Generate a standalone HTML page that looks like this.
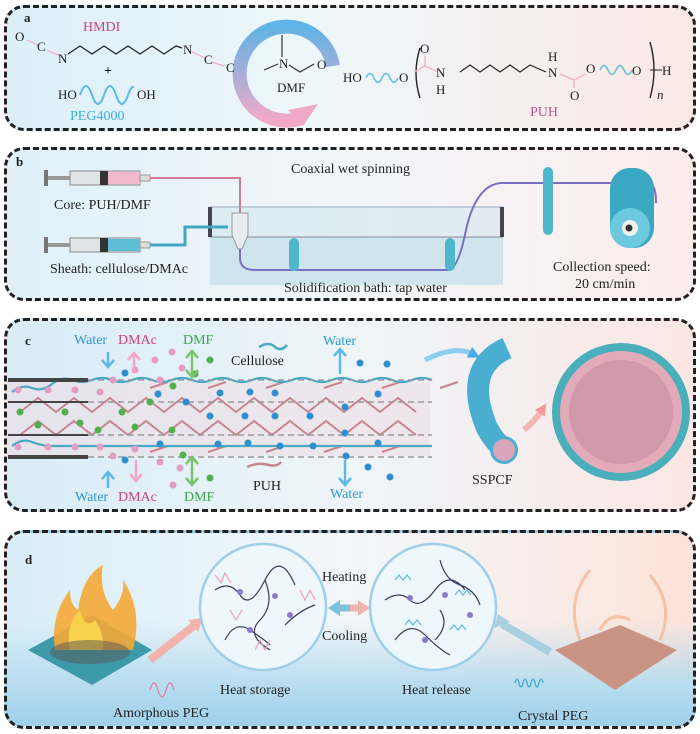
<!DOCTYPE html>
<html><head><meta charset="utf-8"><style>
body{margin:0;width:700px;height:734px;background:#fff;position:relative;overflow:hidden;font-family:"Liberation Serif",serif;}
.p{position:absolute;border:3px dashed #222;border-radius:20px;box-sizing:border-box;overflow:hidden}
.t{position:absolute;white-space:nowrap;font-size:14px;color:#222;line-height:1}
.s{font-size:13px}
</style></head><body>
<div class="p" style="left:4px;top:5px;width:692px;height:126px;background:linear-gradient(90deg,#dcefF9,#eef7fb 45%,#fbe8e4)"></div>
<div class="p" style="left:4px;top:147px;width:692px;height:154px;background:linear-gradient(90deg,#dff0f9,#f2f6f9 50%,#fcecec)"></div>
<div class="p" style="left:4px;top:318px;width:692px;height:194px;background:linear-gradient(90deg,#d8ecf7,#eef5f9 50%,#fce6e3)"></div>
<div class="p" style="left:4px;top:530px;width:692px;height:199px;background:linear-gradient(180deg,rgba(255,255,255,0) 45%,#b6dcef 80%,#9fd0ea),linear-gradient(90deg,#d9eef9,#f3f7fa 50%,#fde3da)"></div>

<svg style="position:absolute;left:0;top:0" width="700" height="734">
<defs>
<linearGradient id="ga" x1="0" y1="0" x2="0" y2="1"><stop offset="0" stop-color="#5fb3e6"/><stop offset="1" stop-color="#f2a9c9"/></linearGradient>
<marker id="mb" markerUnits="userSpaceOnUse" markerWidth="12" markerHeight="12" refX="4" refY="6" orient="auto"><path d="M0,0 L12,6 L0,12z" fill="#4aaee6"/></marker>
<marker id="mp" markerUnits="userSpaceOnUse" markerWidth="12" markerHeight="12" refX="4" refY="6" orient="auto"><path d="M0,0 L12,6 L0,12z" fill="#f39a9a"/></marker>
</defs>
<g stroke="#f3b6c8" stroke-width="1.5"><line x1="27" y1="40" x2="40" y2="46"/><line x1="47" y1="50" x2="60" y2="56"/><line x1="192" y1="52" x2="205" y2="58"/><line x1="212" y1="62" x2="224" y2="66"/></g>
<polyline points="68,54 80,46 92,54 104,46 116,54 128,46 140,54 152,46 164,54 176,46 182,48" fill="none" stroke="#222" stroke-width="1.3"/>
<path d="M80,95 q6,-18 12,0 q6,18 12,0 q6,-18 12,0 q6,18 12,0 q3,-9 6,-8" fill="none" stroke="#5bbde0" stroke-width="2"/>
<path d="M302,118 A47,47 0 1 1 333,66" fill="none" stroke="url(#ga)" stroke-width="14"/>
<polygon points="288,110 318,104 303,126" fill="#f0a8c8"/>
<g stroke="#333" stroke-width="1.2" fill="none"><line x1="282" y1="35" x2="282" y2="57"/><line x1="264" y1="70" x2="278" y2="64"/><polyline points="289,65 300,72 314,64"/></g>
<path d="M366,78 q4,-9 8,0 q4,9 8,0 q4,-9 8,0 q4,9 8,0" fill="none" stroke="#5bbde0" stroke-width="1.5"/>
<path d="M420,48 q-8,25 0,50 M650,42 q8,28 0,56" fill="none" stroke="#222" stroke-width="1.4"/>
<g stroke="#f3b6c8" stroke-width="1.5" fill="none"><polyline points="414,72 425,66 438,72"/><line x1="425" y1="66" x2="425" y2="56"/><polyline points="560,74 574,80 586,74"/><line x1="574" y1="80" x2="574" y2="88"/></g>
<polyline points="460,72 470,65 480,72 490,65 500,72 510,65 520,72 530,65 546,72" fill="none" stroke="#222" stroke-width="1.2"/>
<path d="M600,70 q4,-9 8,0 q4,9 8,0 q4,-9 8,0 q4,9 8,0" fill="none" stroke="#5bbde0" stroke-width="1.5"/>
<line x1="650" y1="70" x2="662" y2="70" stroke="#222"/>

<g>
<rect x="44" y="170" width="4" height="16" fill="#777"/><rect x="48" y="176" width="22" height="4" fill="#999"/>
<rect x="70" y="171" width="70" height="14" fill="#dfe4e6" stroke="#888"/><rect x="108" y="172" width="32" height="12" fill="#f2b8cb"/><rect x="100" y="171" width="8" height="14" fill="#333"/>
<rect x="140" y="175" width="10" height="6" fill="#ddd" stroke="#999"/>
<rect x="44" y="237" width="4" height="16" fill="#777"/><rect x="48" y="243" width="22" height="4" fill="#999"/>
<rect x="70" y="238" width="70" height="14" fill="#dfe4e6" stroke="#888"/><rect x="108" y="239" width="32" height="12" fill="#5cbfd6"/><rect x="100" y="238" width="8" height="14" fill="#333"/>
<rect x="140" y="242" width="10" height="6" fill="#ddd" stroke="#999"/>
</g>
<rect x="210" y="207" width="293" height="78" fill="#cfe5ee" opacity="0.55"/>
<rect x="210" y="237" width="293" height="48" fill="#bfdde9" opacity="0.5"/>
<line x1="210" y1="207" x2="503" y2="207" stroke="#9ab"/>
<line x1="210" y1="237" x2="503" y2="237" stroke="#889"/>
<rect x="208" y="207" width="4" height="30" fill="#445"/><rect x="500" y="207" width="4" height="30" fill="#445"/>
<polyline points="150,178 240,178 240,215" fill="none" stroke="#d57a98" stroke-width="2"/>
<polyline points="150,245 185,245 185,227 228,227" fill="none" stroke="#3fa6c6" stroke-width="3"/>
<path d="M232,213 h16 v22 l-6,14 h-4 l-6,-14z" fill="#e6ecef" stroke="#999"/>
<path d="M240,249 L240,258 q0,12 15,12 L448,270 q10,0 18,-40 q10,-45 35,-47 L648,183 q8,0 8,20" fill="none" stroke="#7a6fc0" stroke-width="2"/>
<rect x="289" y="238" width="10" height="33" rx="5" fill="#4fb6cc"/>
<rect x="445" y="238" width="10" height="33" rx="5" fill="#4fb6cc"/>
<rect x="543" y="167" width="10" height="68" rx="5" fill="#4fb6cc"/>
<rect x="610" y="168" width="44" height="80" rx="20" fill="#3aa8c2"/>
<circle cx="630" cy="228" r="20" fill="#6cc9de"/><circle cx="630" cy="228" r="8" fill="#eee"/><circle cx="629" cy="228" r="3.5" fill="#333"/>

<path d="M8,382 L430,382 L430,456 L8,456 Z" fill="#ecdde4" opacity="0.6"/>
<g stroke="#c8858f" stroke-width="2" fill="none">
<path d="M20,412 l18,-14 l18,14 l18,-14 l18,14 l18,-14 l18,14 l18,-14 l18,14 l18,-14 l18,14 l18,-14 l18,14 l18,-14 l18,14 l18,-14 l18,14 l18,-14 l18,14 l18,-14 l18,14 l18,-14 l18,14"/>
<path d="M20,435 l18,-14 l18,14 l18,-14 l18,14 l18,-14 l18,14 l18,-14 l18,14 l18,-14 l18,14 l18,-14 l18,14 l18,-14 l18,14 l18,-14 l18,14 l18,-14 l18,14 l18,-14 l18,14 l18,-14 l18,14"/>
<path d="M150,388 l18,-6 m40,6 l18,-6 m40,6 l18,-6 m40,6 l18,-6 m40,6 l18,-6 m40,6 l18,-6"/>
<path d="M150,452 l18,-6 m40,6 l18,-6 m40,6 l18,-6 m40,6 l18,-6 m40,6 l18,-6"/>
</g>
<g stroke="#4aa9c2" stroke-width="2.2" fill="none">
<path d="M12,392 q10,-8 20,-4 t20,-4 t20,-4 t20,0 t20,0 t20,0 t20,0 t20,0 t20,0 t20,0 t20,0 t20,0 t20,0 t20,0 t20,0 t20,0 t20,0 t20,0 t20,0 t20,0 t20,0"/>
<path d="M12,446 q10,-8 20,-4 t20,4 t20,0 t20,0 t20,0 t20,0 t20,0 t20,0 t20,0 t20,0 t20,0 t20,0 t20,0 t20,0 t20,0 t20,0 t20,0 t20,0 t20,0 t20,0 t20,0"/>
</g>
<g stroke="#999" stroke-dasharray="6,4" stroke-width="1.5"><line x1="88" y1="380" x2="432" y2="380"/><line x1="8" y1="402" x2="432" y2="402"/><line x1="8" y1="435" x2="432" y2="435"/><line x1="88" y1="457" x2="432" y2="457"/></g>
<g fill="#444"><rect x="8" y="378" width="80" height="4"/><rect x="8" y="455" width="80" height="4"/><rect x="8" y="401" width="80" height="2"/><rect x="8" y="434" width="80" height="2"/></g>
<g fill="#2e8fd0"><circle cx="125" cy="373" r="3.5"/><circle cx="158" cy="394" r="3.5"/><circle cx="186" cy="402" r="3.5"/><circle cx="220" cy="393" r="3.5"/><circle cx="250" cy="392" r="3.5"/><circle cx="275" cy="393" r="3.5"/><circle cx="210" cy="416" r="3.5"/><circle cx="245" cy="416" r="3.5"/><circle cx="275" cy="416" r="3.5"/><circle cx="310" cy="416" r="3.5"/><circle cx="345" cy="407" r="3.5"/><circle cx="378" cy="394" r="3.5"/><circle cx="360" cy="363" r="3.5"/><circle cx="387" cy="364" r="3.5"/><circle cx="160" cy="444" r="3.5"/><circle cx="218" cy="444" r="3.5"/><circle cx="248" cy="443" r="3.5"/><circle cx="280" cy="446" r="3.5"/><circle cx="313" cy="446" r="3.5"/><circle cx="345" cy="433" r="3.5"/><circle cx="378" cy="443" r="3.5"/><circle cx="125" cy="460" r="3.5"/><circle cx="346" cy="456" r="3.5"/><circle cx="368" cy="467" r="3.5"/><circle cx="390" cy="477" r="3.5"/></g>
<g fill="#52b04c"><circle cx="20" cy="412" r="3.5"/><circle cx="38" cy="425" r="3.5"/><circle cx="65" cy="412" r="3.5"/><circle cx="80" cy="423" r="3.5"/><circle cx="98" cy="430" r="3.5"/><circle cx="122" cy="412" r="3.5"/><circle cx="135" cy="427" r="3.5"/><circle cx="150" cy="402" r="3.5"/><circle cx="173" cy="386" r="3.5"/><circle cx="172" cy="430" r="3.5"/><circle cx="210" cy="360" r="3.5"/><circle cx="195" cy="374" r="3.5"/><circle cx="183" cy="455" r="3.5"/><circle cx="210" cy="478" r="3.5"/></g>
<g fill="#e39cc3"><circle cx="18" cy="390" r="3.5"/><circle cx="48" cy="390" r="3.5"/><circle cx="75" cy="390" r="3.5"/><circle cx="100" cy="392" r="3.5"/><circle cx="18" cy="447" r="3.5"/><circle cx="48" cy="447" r="3.5"/><circle cx="75" cy="447" r="3.5"/><circle cx="100" cy="447" r="3.5"/><circle cx="113" cy="380" r="3.5"/><circle cx="135" cy="370" r="3.5"/><circle cx="155" cy="360" r="3.5"/><circle cx="172" cy="352" r="3.5"/><circle cx="182" cy="368" r="3.5"/><circle cx="160" cy="380" r="3.5"/><circle cx="113" cy="456" r="3.5"/><circle cx="135" cy="449" r="3.5"/><circle cx="160" cy="462" r="3.5"/><circle cx="180" cy="468" r="3.5"/><circle cx="173" cy="485" r="3.5"/></g>
<g stroke-width="2.5" fill="none">
<path d="M108,352 v14" stroke="#5fb8e8"/><path d="M102,360 l6,7 l6,-7" stroke="#5fb8e8"/>
<path d="M134,372 v-18" stroke="#f4a6c4"/><path d="M128,360 l6,-7 l6,7" stroke="#f4a6c4"/>
<path d="M192,352 v24" stroke="#7cc46a"/><path d="M186,358 l6,-7 l6,7 M186,370 l6,7 l6,-7" stroke="#7cc46a"/>
<path d="M340,350 v24" stroke="#5fb8e8"/><path d="M334,356 l6,-7 l6,7" stroke="#5fb8e8"/>
<path d="M108,488 v-16" stroke="#5fb8e8"/><path d="M102,479 l6,-7 l6,7" stroke="#5fb8e8"/>
<path d="M136,460 v20" stroke="#f4a6c4"/><path d="M130,474 l6,7 l6,-7" stroke="#f4a6c4"/>
<path d="M192,458 v26" stroke="#7cc46a"/><path d="M186,464 l6,-7 l6,7 M186,478 l6,7 l6,-7" stroke="#7cc46a"/>
<path d="M345,460 v24" stroke="#5fb8e8"/><path d="M339,478 l6,7 l6,-7" stroke="#5fb8e8"/>
<path d="M259,347 q10,-6 16,0 q6,5 12,-2" stroke="#4aa9c2"/>
<path d="M247,467 q10,-5 22,-2 q8,2 12,-3" stroke="#c8858f"/>
</g>
<path d="M425,360 q30,-15 48,-6" fill="none" stroke="#8ccdf0" stroke-width="5" marker-end="url(#mb)"/>
<path d="M507,348 q-45,20 -20,80 q10,18 22,25" fill="none" stroke="#4aaed0" stroke-width="22"/>
<circle cx="504" cy="450" r="14" fill="#4aaed0"/><circle cx="504" cy="450" r="11" fill="#d9a7b9"/>
<path d="M524,430 q10,-8 18,-20" fill="none" stroke="#f7b4b4" stroke-width="6" marker-end="url(#mp)"/>
<circle cx="621" cy="412" r="69" fill="#4aaebb"/><circle cx="621" cy="412" r="61" fill="#e3aab9"/><circle cx="621" cy="412" r="52" fill="#cf98ab"/>

<polygon points="28,650 92,615 152,650 92,685" fill="#3d9aa8"/>
<path d="M55,650 q-5,-35 15,-60 q0,15 8,20 q5,-35 25,-45 q-5,25 10,45 q12,-15 10,-30 q20,30 10,70 z" fill="#f4a736" opacity="0.9"/>
<path d="M70,650 q-5,-25 10,-40 q5,20 15,10 q10,15 8,30 z" fill="#f8d24a"/>
<ellipse cx="90" cy="652" rx="40" ry="12" fill="#555" opacity="0.5"/>
<polygon points="555,650 620,625 677,650 615,690" fill="#c99484"/>
<path d="M580,640 q-15,-40 10,-70 M660,640 q15,-35 -10,-65 M600,630 q10,-20 30,-10" fill="none" stroke="#f6b08a" stroke-width="3" opacity="0.7"/>
<path d="M150,660 l45,-35" stroke="#f2b3ad" stroke-width="8"/><polygon points="188,620 203,618 198,632" fill="#f2b3ad"/>
<path d="M550,652 l-48,-28" stroke="#a9d0e0" stroke-width="8"/><polygon points="494,628 498,614 510,622" fill="#a9d0e0"/>
<circle cx="263" cy="607" r="63" fill="#eef7fc" stroke="#9fcfe8" stroke-width="2.5"/>
<circle cx="433" cy="607" r="63" fill="#eef7fc" stroke="#9fcfe8" stroke-width="2.5"/>
<g stroke="#3a3a5a" fill="none" stroke-width="1.2">
<path d="M215,590 q15,-10 25,5 t25,-15 t30,5 M225,640 q10,-20 25,-10 t20,15 M265,580 q10,25 -5,40 t10,30 M285,625 q15,-15 30,-20"/>
<path d="M385,600 q15,-10 25,0 t25,-10 t30,0 M395,640 q15,-20 30,-5 t25,20 M440,560 q5,20 20,25 t20,20 M440,610 q10,15 -5,30"/>
</g>
<g stroke="#f0a0b8" fill="none" stroke-width="1.2"><path d="M215,575 l6,8 l4,-10 l6,10 M300,590 l5,10 l5,-10 l5,10 M255,650 l5,-10 l5,10 l5,-10 M230,610 l6,10 l6,-10"/></g>
<g stroke="#5bbde0" fill="none" stroke-width="1.2"><path d="M395,580 l4,-5 l4,5 l4,-5 l4,5 M455,595 l4,-5 l4,5 l4,-5 l4,5 M405,625 l4,-5 l4,5 l4,-5 l4,5 M450,630 l4,-5 l4,5 l4,-5 l4,5"/></g>
<g fill="#8a7ac8"><circle cx="240" cy="592" r="3"/><circle cx="275" cy="596" r="3"/><circle cx="250" cy="630" r="3"/><circle cx="290" cy="615" r="3"/><circle cx="410" cy="598" r="3"/><circle cx="445" cy="595" r="3"/><circle cx="425" cy="640" r="3"/><circle cx="470" cy="615" r="3"/></g>
<path d="M350,608 h-12" stroke="#7fc0dc" stroke-width="7"/><polygon points="328,608 340,600 340,616" fill="#7fc0dc"/>
<path d="M350,608 h10" stroke="#f2b3ad" stroke-width="7"/><polygon points="370,608 358,600 358,616" fill="#f2b3ad"/>
<path d="M150,690 q4,-14 8,0 q4,14 8,0 q4,-14 8,0" fill="none" stroke="#e67c9a" stroke-width="1.3"/>
<path d="M515,683 q2,-8 4,0 q2,8 4,0 q2,-8 4,0 q2,8 4,0 q2,-8 4,0 q2,8 4,0 q2,-8 4,0" fill="none" stroke="#3aa8c8" stroke-width="1.3"/>
</svg>

<div class="t" style="left:24px;top:11px;font-weight:bold;font-size:13px">a</div>
<div class="t" style="left:83px;top:21px;color:#d0407a">HMDI</div>
<div class="t s" style="left:15px;top:30px">O</div><div class="t s" style="left:37px;top:40px">C</div><div class="t s" style="left:58px;top:52px">N</div>
<div class="t s" style="left:183px;top:43px">N</div><div class="t s" style="left:204px;top:53px">C</div><div class="t s" style="left:226px;top:61px">C</div>
<div class="t" style="left:104px;top:65px;font-weight:bold">+</div>
<div class="t s" style="left:58px;top:88px">HO</div><div class="t s" style="left:137px;top:88px">OH</div>
<div class="t" style="left:70px;top:110px;color:#3ab0e0">PEG4000</div>
<div class="t s" style="left:279px;top:57px">N</div><div class="t s" style="left:317px;top:58px">O</div>
<div class="t s" style="left:277px;top:81px">DMF</div>
<div class="t s" style="left:343px;top:71px">HO</div><div class="t s" style="left:399px;top:71px">O</div>
<div class="t s" style="left:420px;top:42px">O</div>
<div class="t s" style="left:436px;top:66px">N</div><div class="t s" style="left:436px;top:83px">H</div>
<div class="t s" style="left:548px;top:66px">N</div><div class="t s" style="left:548px;top:50px">H</div>
<div class="t s" style="left:586px;top:62px">O</div><div class="t s" style="left:570px;top:89px">O</div>
<div class="t s" style="left:632px;top:64px">O</div><div class="t s" style="left:662px;top:64px">H</div>
<div class="t s" style="left:657px;top:88px;font-style:italic">n</div>
<div class="t" style="left:530px;top:106px;color:#c05090">PUH</div>

<div class="t" style="left:16px;top:155px;font-weight:bold;font-size:13px">b</div>
<div class="t" style="left:291px;top:163px">Coaxial wet spinning</div>
<div class="t" style="left:54px;top:199px">Core: PUH/DMF</div>
<div class="t" style="left:50px;top:263px">Sheath: cellulose/DMAc</div>
<div class="t" style="left:284px;top:282px">Solidification bath: tap water</div>
<div class="t" style="left:553px;top:261px">Collection speed:</div>
<div class="t" style="left:575px;top:278px">20 cm/min</div>

<div class="t" style="left:25px;top:334px;font-weight:bold;font-size:13px">c</div>
<div class="t" style="left:74px;top:334px;color:#2e9ad0">Water</div>
<div class="t" style="left:118px;top:334px;color:#d0407a">DMAc</div>
<div class="t" style="left:183px;top:334px;color:#3aa84a">DMF</div>
<div class="t" style="left:231px;top:355px">Cellulose</div>
<div class="t" style="left:323px;top:335px;color:#2e9ad0">Water</div>
<div class="t" style="left:75px;top:491px;color:#2e9ad0">Water</div>
<div class="t" style="left:118px;top:491px;color:#d0407a">DMAc</div>
<div class="t" style="left:184px;top:491px;color:#3aa84a">DMF</div>
<div class="t" style="left:253px;top:480px">PUH</div>
<div class="t" style="left:330px;top:488px;color:#2e9ad0">Water</div>
<div class="t" style="left:472px;top:474px">SSPCF</div>

<div class="t" style="left:25px;top:553px;font-weight:bold;font-size:13px">d</div>
<div class="t" style="left:322px;top:571px">Heating</div>
<div class="t" style="left:322px;top:630px">Cooling</div>
<div class="t" style="left:220px;top:684px">Heat storage</div>
<div class="t" style="left:402px;top:684px">Heat release</div>
<div class="t" style="left:113px;top:707px">Amorphous PEG</div>
<div class="t" style="left:518px;top:710px">Crystal PEG</div>
</body></html>
